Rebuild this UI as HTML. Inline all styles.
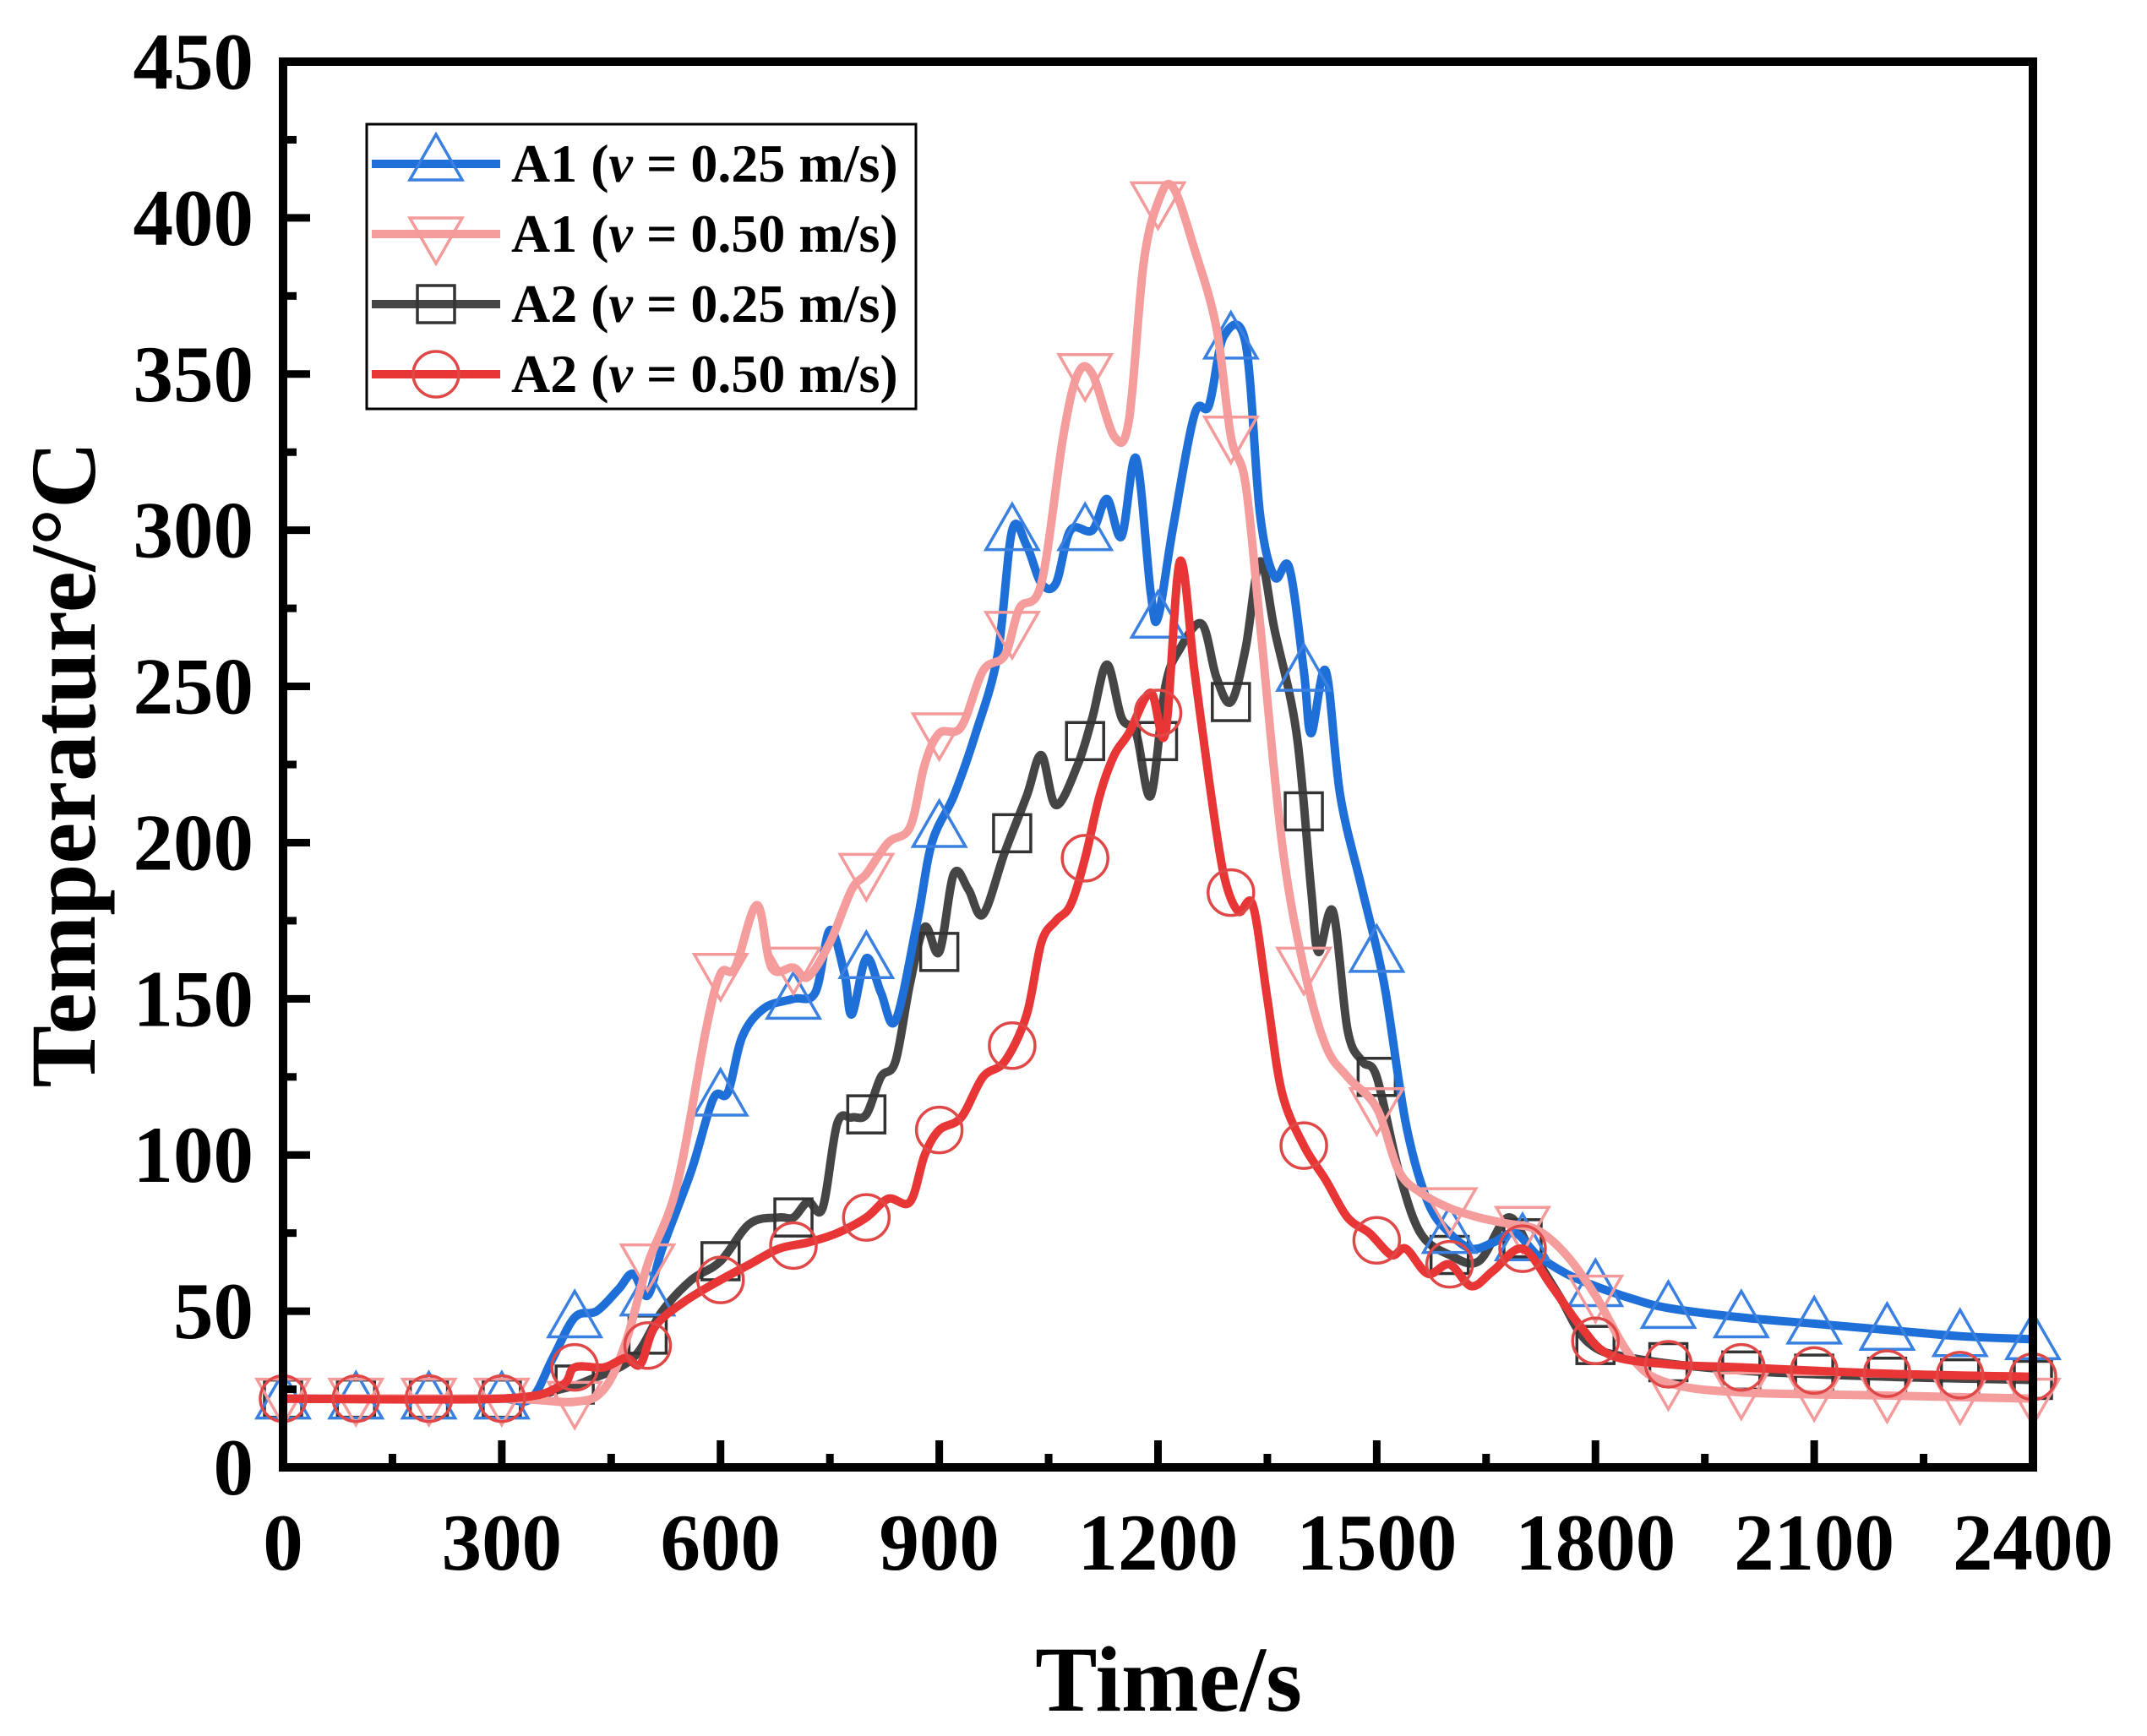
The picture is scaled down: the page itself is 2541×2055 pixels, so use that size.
<!DOCTYPE html>
<html><head><meta charset="utf-8"><style>
html,body{margin:0;padding:0;background:#fff;}
svg{display:block;font-family:"Liberation Serif",serif;font-weight:bold;}
</style></head><body>
<svg id="chart" width="2541" height="2055" viewBox="0 0 2541 2055" xmlns="http://www.w3.org/2000/svg">
<rect width="2541" height="2055" fill="#fff"/>
<g id="series"></g>
<g id="axes"></g>
<text x="1383" y="2025" font-size="110" text-anchor="middle">Time/s</text>
<text transform="translate(112,905) rotate(-90)" font-size="110" text-anchor="middle">Temperature/°C</text>
<g id="legend"></g>
</svg>
<script>
const xTicks=[0,300,600,900,1200,1500,1800,2100,2400];
const yTicks=[0,50,100,150,200,250,300,350,400,450];
const a1v025=[[0,22],[100,22],[200,22],[300,22],[340,22],[370,35],[400,48],[430,50],[460,57],[480,62],[500,55],[520,70],[560,95],[590,118],[610,120],[630,138],[660,147],[700,150],[730,152],[750,172],[770,158],[780,145],[800,163],[820,152],[840,143],[870,175],[890,200],[920,215],[950,235],[980,260],[1000,300],[1020,295],[1040,283],[1060,283],[1080,300],[1110,300],[1130,310],[1150,298],[1170,323],[1190,280],[1200,272],[1220,300],[1250,337],[1270,340],[1290,362],[1320,360],[1340,305],[1360,285],[1380,288],[1400,255],[1410,235],[1430,255],[1450,215],[1480,185],[1510,155],[1540,110],[1570,85],[1600,75],[1630,70],[1660,72],[1690,75],[1720,68],[1760,62],[1800,58],[1850,54],[1900,51],[2000,48],[2100,46],[2200,44],[2300,42],[2400,41]];
const a1v050=[[0,22],[300,22],[400,21],[440,25],[470,40],[500,65],[540,90],[580,140],[600,158],[620,160],[650,180],[670,160],[700,160],[720,157],[750,168],[780,185],[800,190],[830,200],[860,205],[880,225],[900,235],[930,237],[960,255],[990,260],[1010,275],[1040,283],[1070,330],[1090,350],[1110,350],[1140,330],[1160,335],[1180,385],[1200,405],[1220,410],[1250,390],[1280,365],[1300,330],[1320,315],[1340,270],[1370,200],[1400,160],[1430,135],[1460,125],[1500,115],[1530,95],[1560,88],[1600,83],[1640,80],[1680,78],[1720,76],[1760,68],[1800,55],[1850,35],[1900,27],[2000,24],[2200,23],[2400,22]];
const a2v025=[[0,22],[300,22],[380,25],[420,28],[480,35],[520,50],[560,60],[600,66],[640,78],[680,80],[700,80],[720,85],[740,83],[760,110],[780,112],[800,113],[820,125],[840,130],[860,155],[880,173],[900,165],[920,190],[940,185],[960,177],[990,197],[1020,215],[1040,228],[1060,212],[1090,225],[1110,240],[1130,257],[1150,240],[1170,235],[1190,215],[1210,250],[1230,262],[1260,270],[1280,253],[1300,245],[1320,262],[1340,290],[1360,268],[1390,235],[1410,185],[1420,165],[1440,178],[1460,140],[1480,130],[1500,125],[1530,95],[1560,75],[1600,68],[1640,66],[1680,80],[1710,70],[1750,55],[1790,40],[1850,35],[2000,31],[2200,29],[2400,28]];
const a2v050=[[0,22],[300,22],[380,26],[400,32],[440,32],[470,35],[490,33],[510,45],[550,53],[600,60],[640,65],[680,70],[720,72],[760,75],[800,80],[830,86],[860,85],[880,100],[900,108],[930,112],[960,125],[990,130],[1020,145],[1040,168],[1060,175],[1080,180],[1100,195],[1120,215],[1140,228],[1160,235],[1190,248],[1210,235],[1230,290],[1250,255],[1270,220],[1290,190],[1310,178],[1330,180],[1350,150],[1370,120],[1400,103],[1430,92],[1460,80],[1490,75],[1520,68],[1540,70],[1570,62],[1600,65],[1630,58],[1660,63],[1700,70],[1740,58],[1780,45],[1820,36],[1900,33],[2000,32],[2200,30],[2400,29]];
const seriesNames=["A1 (v = 0.25 m/s)","A1 (v = 0.50 m/s)","A2 (v = 0.25 m/s)","A2 (v = 0.50 m/s)"];

const NS="http://www.w3.org/2000/svg";
const X0=335,X1=2406,Y0=1737,Y1=73;
const xs=v=>X0+(v/2400)*(X1-X0);
const ys=v=>Y0-(v/450)*(Y0-Y1);
function mk(tag,attrs,parent){const e=document.createElementNS(NS,tag);for(const k in attrs)e.setAttribute(k,attrs[k]);parent.appendChild(e);return e;}
function smooth(pts){
  const p=pts.map(d=>[xs(d[0]),ys(d[1])]);
  let s="M"+p[0][0]+","+p[0][1];
  for(let i=0;i<p.length-1;i++){
    const a=p[i-1]||p[i],b=p[i],c=p[i+1],d=p[i+2]||c;
    s+=" C"+(b[0]+(c[0]-a[0])/6)+","+(b[1]+(c[1]-a[1])/6)+" "+(c[0]-(d[0]-b[0])/6)+","+(c[1]-(d[1]-b[1])/6)+" "+c[0]+","+c[1];
  }
  return s;
}
function valAt(pts,t){for(let i=0;i<pts.length-1;i++){if(t>=pts[i][0]&&t<=pts[i+1][0]){const f=(t-pts[i][0])/(pts[i+1][0]-pts[i][0]);return pts[i][1]+f*(pts[i+1][1]-pts[i][1]);}}return pts[pts.length-1][1];}
function marker(type,cx,cy,color,parent){
  let e;
  if(type==="up")e=mk("polygon",{points:`${cx},${cy-31} ${cx-31},${cy+23} ${cx+31},${cy+23}`,fill:"none",stroke:color,"stroke-width":3.5},parent);
  else if(type==="down")e=mk("polygon",{points:`${cx},${cy+31} ${cx-31},${cy-23} ${cx+31},${cy-23}`,fill:"none",stroke:color,"stroke-width":3.5},parent);
  else if(type==="sq")e=mk("rect",{x:cx-22,y:cy-22,width:44,height:44,fill:"none",stroke:color,"stroke-width":3.5},parent);
  else e=mk("circle",{cx:cx,cy:cy,r:27,fill:"none",stroke:color,"stroke-width":3.5},parent);
  return e;
}
const defs=[
 {data:a2v025,color:"#454545",mc:"#333",m:"sq",name:"series-a2-025"},
 {data:a1v025,color:"#1f6fd8",mc:"#3a80e0",m:"up",name:"series-a1-025"},
 {data:a1v050,color:"#f59c9c",mc:"#f49a9a",m:"down",name:"series-a1-050"},
 {data:a2v050,color:"#e83535",mc:"#e04848",m:"circ",name:"series-a2-050"}
];
const sg=document.getElementById("series");
defs.forEach(d=>{
  const g=mk("g",{},sg);
  
  
  const path=mk("path",{d:smooth(d.data),fill:"none",stroke:d.color,"stroke-width":10,"stroke-linejoin":"round","stroke-linecap":"round"},g);
  
  
  for(let t=0;t<=2400;t+=100){
    const m=marker(d.m,xs(t),ys(valAt(d.data,t)),d.mc,g);
    
    
  }
});
const ag=document.getElementById("axes");
const frame=mk("rect",{x:X0,y:Y1,width:X1-X0,height:Y0-Y1,fill:"none",stroke:"#000","stroke-width":10},ag);


xTicks.forEach(v=>{
  const t=mk("line",{x1:xs(v),x2:xs(v),y1:Y0,y2:Y0-32,stroke:"#000","stroke-width":9},ag);
  
  
  const l=mk("text",{x:xs(v),y:1858,"font-size":95,"text-anchor":"middle"},ag);
  l.textContent=v;
  
  
  if(v<2400){const m=mk("line",{x1:xs(v+150),x2:xs(v+150),y1:Y0,y2:Y0-16,stroke:"#000","stroke-width":9},ag);
  
  }
});
yTicks.forEach(v=>{
  const t=mk("line",{x1:X0,x2:X0+32,y1:ys(v),y2:ys(v),stroke:"#000","stroke-width":9},ag);
  
  
  const l=mk("text",{x:300,y:ys(v)+32,"font-size":95,"text-anchor":"end"},ag);
  l.textContent=v;
  
  
  if(v<450){const m=mk("line",{x1:X0,x2:X0+16,y1:ys(v+25),y2:ys(v+25),stroke:"#000","stroke-width":9},ag);
  
  }
});
const lg=document.getElementById("legend");
const box=mk("rect",{x:434,y:147,width:650,height:337,fill:"#fff",stroke:"#000","stroke-width":3},lg);


const order=[1,2,0,3];const ly=[194,277,360,443];
order.forEach((di,i)=>{
  const d=defs[di];
  const g=mk("g",{},lg);
  
  
  mk("line",{x1:440,x2:592,y1:ly[i],y2:ly[i],stroke:d.color,"stroke-width":10},g);
  marker(d.m,516,ly[i]+(d.m==="up"?-4:d.m==="down"?4:0),d.mc,g);
  const t=mk("text",{x:605,y:ly[i]+21,"font-size":64},g);
  const parts=seriesNames[i].split("v");
  t.appendChild(document.createTextNode(parts[0]));
  const ts=mk("tspan",{"font-style":"italic"},t);ts.textContent="v";
  t.appendChild(document.createTextNode(parts[1]));
});
</script>
</body></html>
